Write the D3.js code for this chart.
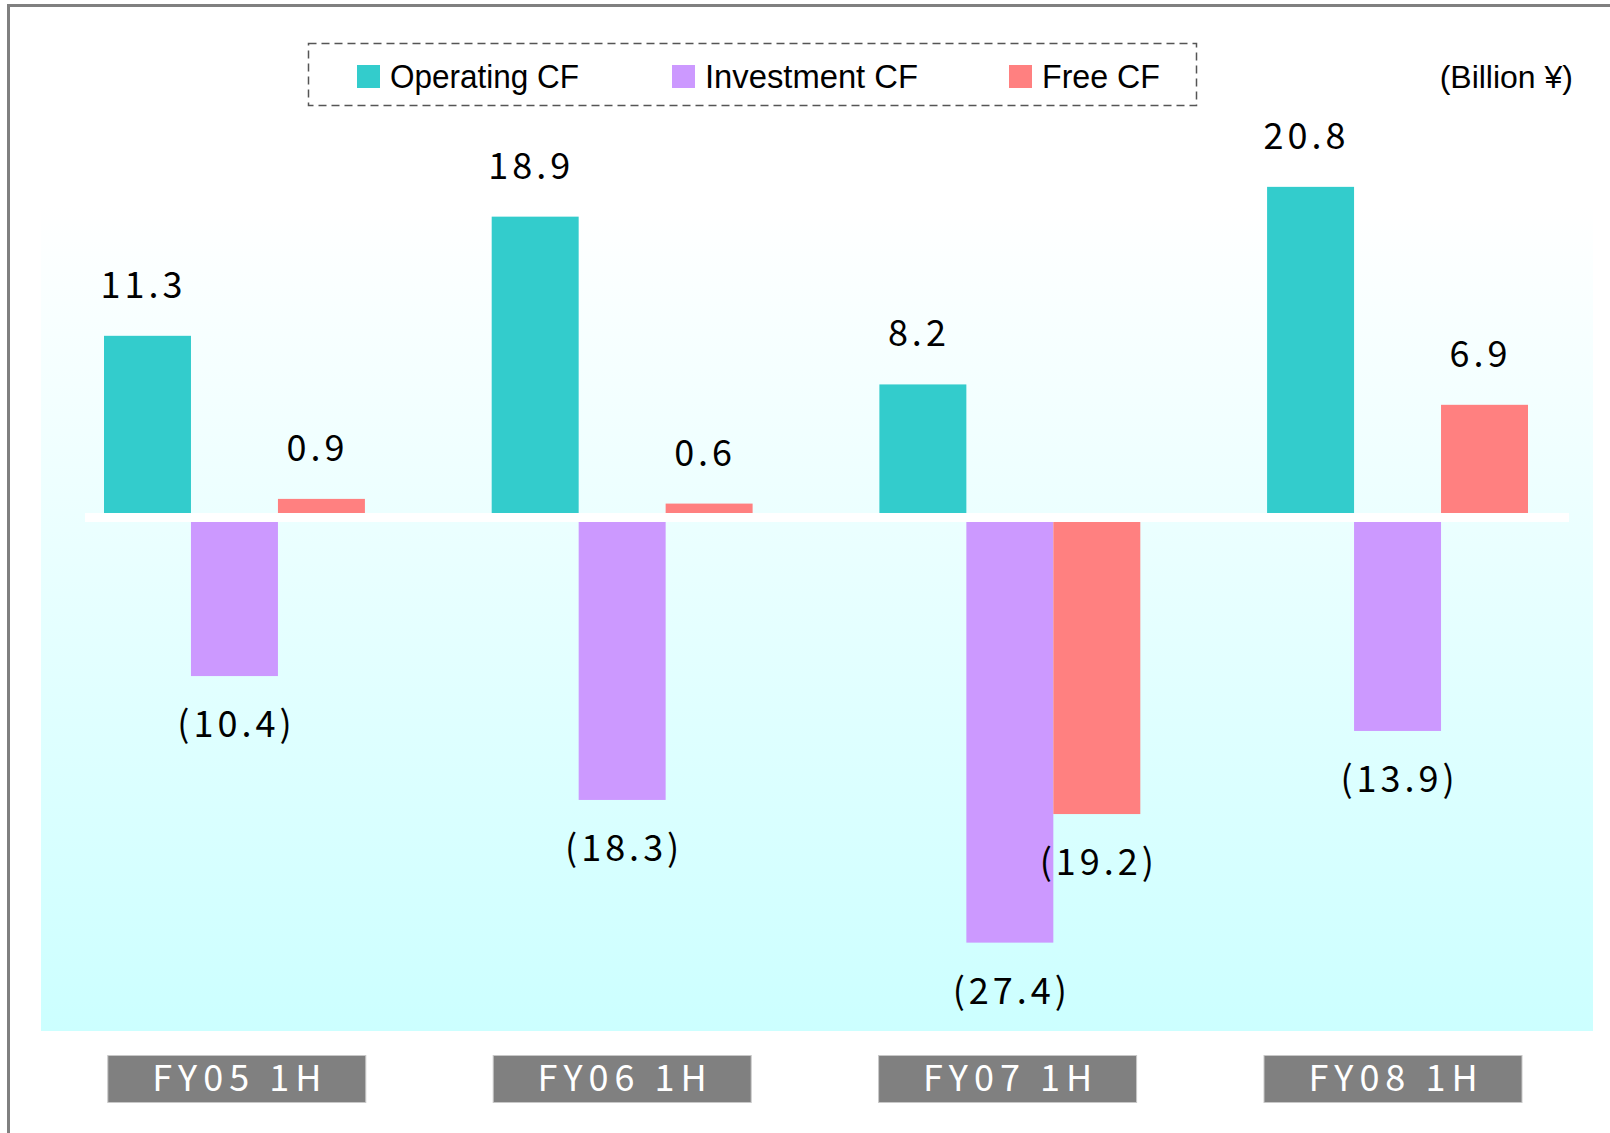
<!DOCTYPE html>
<html>
<head>
<meta charset="utf-8">
<script src="https://cdn.jsdelivr.net/npm/d3@7"></script>
<style>
	body { margin: 0; background: #fff; }
	svg { display: block; }
	.val { font-family: "Noto Sans CJK JP", "DejaVu Sans", sans-serif; font-size: 36px; letter-spacing: 4px; fill: #000; }
	.cat { font-family: "Noto Sans CJK JP", "DejaVu Sans", sans-serif; font-size: 36px; letter-spacing: 6px; fill: #fff; }
	.leg { font-family: "Liberation Sans Narrow", "Arial Narrow", "Liberation Sans", sans-serif; font-size: 34px; fill: #000; }
	.unit { font-family: "Liberation Sans", Arial, sans-serif; font-size: 32px; fill: #000; }
</style>
</head>
<body>
<script>
'use strict';

const categories = ['FY05 1H', 'FY06 1H', 'FY07 1H', 'FY08 1H'];
const seriesNames = ['Operating CF', 'Investment CF', 'Free CF'];
const seriesColors = ['#33cccc', '#cc99ff', '#ff8080'];
const operating = [11.3, 18.9, 8.2, 20.8];
const investment = [-10.4, -18.3, -27.4, -13.9];
const free = [0.9, 0.6, -19.2, 6.9];

const width = 1610, height = 1133;
const values = [operating, investment, free];
const data = categories.map((c, i) => ({
	cat: c,
	items: seriesNames.map((s, j) => ({ series: s, value: values[j][i] }))
}));

const svg = d3.select('body').append('svg')
	.attr('width', width)
	.attr('height', height);

// gradient background of the plot area
const grad = svg.append('defs').append('linearGradient')
	.attr('id', 'bg')
	.attr('x1', 0).attr('y1', 0).attr('x2', 0).attr('y2', 1);
grad.append('stop').attr('offset', '0%').attr('stop-color', '#ffffff');
grad.append('stop').attr('offset', '100%').attr('stop-color', '#ccffff');

svg.append('rect')
	.attr('x', 41).attr('y', 205)
	.attr('width', 1593 - 41).attr('height', 1031 - 205)
	.attr('fill', 'url(#bg)');

// frame
svg.append('path')
	.attr('d', `M8.5,${height} V5.5 H${width}`)
	.attr('fill', 'none')
	.attr('stroke', '#808080')
	.attr('stroke-width', 3);

const x = d3.scaleBand()
	.domain(categories)
	.range([104, 1528])
	.paddingInner(0.327)
	.paddingOuter(0);

const xs = d3.scaleBand()
	.domain(seriesNames)
	.range([0, x.bandwidth()]);

// label boxes sit on a slightly tighter step than the bars
const xl = d3.scaleBand()
	.domain(categories)
	.range([107.8, 1522])
	.paddingInner(0.3306)
	.paddingOuter(0);

const color = d3.scaleOrdinal().domain(seriesNames).range(seriesColors);

const y = d3.scaleLinear()
	.domain([-30, 25])
	.range([513 + 30 * 15.68, 513 - 25 * 15.68]);

const fmt = v => v < 0 ? `(${Math.abs(v).toFixed(1)})` : v.toFixed(1);

const groups = svg.selectAll('g.group').data(data).enter().append('g')
	.attr('class', 'group')
	.attr('transform', d => `translate(${x(d.cat)},0)`);

groups.selectAll('rect').data(d => d.items).enter().append('rect')
	.attr('x', d => xs(d.series))
	.attr('y', d => y(Math.max(0, d.value)))
	.attr('width', xs.bandwidth())
	.attr('height', d => Math.abs(y(d.value) - y(0)))
	.attr('fill', d => color(d.series));

// zero line
svg.append('line')
	.attr('x1', x.range()[0] - 19)
	.attr('x2', x.range()[1] + 41)
	.attr('y1', y(0) + 4.5)
	.attr('y2', y(0) + 4.5)
	.attr('stroke', '#ffffff')
	.attr('stroke-width', 9);

groups.selectAll('text.val').data(d => d.items).enter().append('text')
	.attr('class', 'val')
	.attr('x', d => xs(d.series) + xs.bandwidth() / 2 + (d.value >= 0 ? -4 : 2))
	.attr('y', d => d.value >= 0 ? y(d.value) - 38 : y(d.value) + 61)
	.attr('text-anchor', 'middle')
	.text(d => fmt(d.value));

// category labels
const cat = svg.selectAll('g.cat').data(categories).enter().append('g')
	.attr('transform', d => `translate(${xl(d)},0)`);
cat.append('rect')
	.attr('x', 0).attr('y', 1055.5)
	.attr('width', xl.bandwidth()).attr('height', 47)
	.attr('fill', '#808080')
	.attr('stroke', '#c8c8c8')
	.attr('stroke-width', 1);
cat.append('text')
	.attr('class', 'cat')
	.attr('x', xl.bandwidth() / 2 + 3)
	.attr('y', 1091)
	.attr('text-anchor', 'middle')
	.text(d => d);

// legend
svg.append('rect')
	.attr('x', 308.5).attr('y', 43.5)
	.attr('width', 1196 - 308).attr('height', 62)
	.attr('fill', 'none')
	.attr('stroke', '#555')
	.attr('stroke-width', 1.5)
	.attr('stroke-dasharray', '8,5');

const legX = [357, 672, 1009];
const legTextLen = [189, 213, 118];
const leg = svg.selectAll('g.leg').data(seriesNames).enter().append('g')
	.attr('transform', (d, i) => `translate(${legX[i]},65)`);
leg.append('rect')
	.attr('width', 23).attr('height', 23)
	.attr('fill', d => color(d));
leg.append('text')
	.attr('class', 'leg')
	.attr('x', 33).attr('y', 23)
	.attr('textLength', (d, i) => legTextLen[i])
	.attr('lengthAdjust', 'spacingAndGlyphs')
	.text(d => d);

svg.append('text')
	.attr('class', 'unit')
	.attr('x', 1573).attr('y', 88)
	.attr('text-anchor', 'end')
	.text('(Billion ¥)');
</script>
</body>
</html>
